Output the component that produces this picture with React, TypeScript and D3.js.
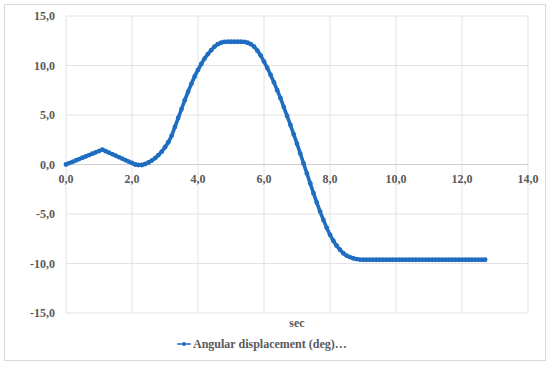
import { useEffect, useRef } from "react";
import * as d3 from "d3";

// sampling interval of the recorded series (sec)
const TIME_STEP = 0.1;

// angular displacement (deg), one value per sample starting at t = 0
const angleDeg = [
  0, 0.14, 0.27, 0.41, 0.55, 0.68, 0.82, 0.95, 1.09, 1.23, 1.36, 1.5,
  1.35, 1.2, 1.05, 0.9, 0.75, 0.6, 0.45, 0.3, 0.15, 0.0,
  -0.05, -0.05, 0.05, 0.2, 0.4, 0.65,
  0.95, 1.3, 1.75, 2.25, 2.9, 3.8, 4.7, 5.6, 6.5, 7.35, 8.15, 8.9,
  9.55, 10.15, 10.7, 11.15, 11.55, 11.9, 12.15, 12.3, 12.38,
  12.4, 12.4, 12.4, 12.4, 12.4, 12.38,
  12.3, 12.15, 11.9, 11.5, 11.0, 10.4, 9.75, 9.05, 8.3, 7.5,
  6.7, 5.8, 4.9, 4.0, 3.05, 2.1, 1.1, 0.1, -0.9, -1.9,
  -2.9, -3.85, -4.75, -5.6, -6.4, -7.1, -7.7, -8.2, -8.6, -8.95,
  -9.2, -9.35, -9.47, -9.55, -9.6, -9.62,
  -9.62, -9.62, -9.62, -9.62, -9.62, -9.62, -9.62, -9.62, -9.62, -9.62,
  -9.62, -9.62, -9.62, -9.62, -9.62, -9.62, -9.62, -9.62, -9.62, -9.62,
  -9.62, -9.62, -9.62, -9.62, -9.62, -9.62, -9.62, -9.62, -9.62, -9.62,
  -9.62, -9.62, -9.62, -9.62, -9.62, -9.62, -9.62,
];

const xTicks = [0, 2, 4, 6, 8, 10, 12, 14];
const yTicks = [-15, -10, -5, 0, 5, 10, 15];
const xTitle = "sec";
const seriesName = "Angular displacement (deg)…";

const W = 550;
const H = 365;
const BLUE = "#1f6dc0";
const TEXT = "#595959";
const FONT = "'Liberation Serif', 'Times New Roman', Times, serif";
const FONT_SIZE = "12px";

const fmt = (v: number) => d3.format(".1f")(v).replace(".", ",").replace("−", "-");

const App = () => {
  const svgRef = useRef<SVGSVGElement>(null);

  useEffect(() => {
    const svg = d3.select(svgRef.current);
    svg.selectAll("*").remove();

    const margin = { top: 16, right: 22, bottom: 52, left: 66 };
    const x = d3.scaleLinear().domain([0, 14]).range([margin.left, W - margin.right]);
    const y = d3.scaleLinear().domain([-15, 15]).range([H - margin.bottom, margin.top]);

    // chart frame
    svg
      .append("rect")
      .attr("x", 4.5)
      .attr("y", 4.5)
      .attr("width", W - 9)
      .attr("height", H - 9)
      .attr("fill", "#fff")
      .attr("stroke", "#d9d9d9");

    // grid
    svg
      .append("g")
      .selectAll("line")
      .data(xTicks)
      .join("line")
      .attr("x1", (d) => x(d))
      .attr("x2", (d) => x(d))
      .attr("y1", y(15))
      .attr("y2", y(-15))
      .attr("stroke", "#e3e3e3");

    svg
      .append("g")
      .selectAll("line")
      .data(yTicks)
      .join("line")
      .attr("x1", x(0))
      .attr("x2", x(14))
      .attr("y1", (d) => y(d))
      .attr("y2", (d) => y(d))
      .attr("stroke", (d) => (d === 0 ? "#cfcfcf" : "#e3e3e3"));

    const labels = svg
      .append("g")
      .style("font-family", FONT)
      .style("font-weight", "bold")
      .style("font-size", FONT_SIZE)
      .attr("fill", TEXT);

    // tick labels
    labels
      .append("g")
      .selectAll("text")
      .data(yTicks)
      .join("text")
      .attr("x", x(0) - 11)
      .attr("y", (d) => y(d) + 4)
      .attr("text-anchor", "end")
      .text((d) => fmt(d));

    labels
      .append("g")
      .selectAll("text")
      .data(xTicks)
      .join("text")
      .attr("x", (d) => x(d))
      .attr("y", y(0) + 18)
      .attr("text-anchor", "middle")
      .text((d) => fmt(d));

    labels
      .append("text")
      .attr("x", (x(0) + x(14)) / 2)
      .attr("y", 327)
      .attr("text-anchor", "middle")
      .text(xTitle);

    // series
    const pts: [number, number][] = angleDeg.map((v, i) => [i * TIME_STEP, v]);
    const line = d3
      .line<[number, number]>()
      .x((d) => x(d[0]))
      .y((d) => y(d[1]))
      .curve(d3.curveMonotoneX);

    svg
      .append("path")
      .attr("d", line(pts))
      .attr("fill", "none")
      .attr("stroke", BLUE)
      .attr("stroke-width", 3.6)
      .attr("stroke-linejoin", "round");

    svg
      .append("g")
      .selectAll("circle")
      .data(pts)
      .join("circle")
      .attr("cx", (d) => x(d[0]))
      .attr("cy", (d) => y(d[1]))
      .attr("r", 2.4)
      .attr("fill", BLUE);

    // legend
    const lg = svg.append("g").attr("transform", "translate(177,344)");
    lg.append("line").attr("x1", 0).attr("x2", 14).attr("y1", 0).attr("y2", 0).attr("stroke", BLUE).attr("stroke-width", 1.5);
    lg.append("circle").attr("cx", 7).attr("cy", 0).attr("r", 2).attr("fill", BLUE);
    lg.append("text")
      .attr("x", 16)
      .attr("y", 4)
      .style("font-family", FONT)
      .style("font-weight", "bold")
      .style("font-size", FONT_SIZE)
      .attr("fill", TEXT)
      .text(seriesName);
  }, []);

  return (
    <svg
      ref={svgRef}
      width={W}
      height={H}
      style={{ position: "absolute", left: 0, top: 0, display: "block" }}
    />
  );
};

export default App;
